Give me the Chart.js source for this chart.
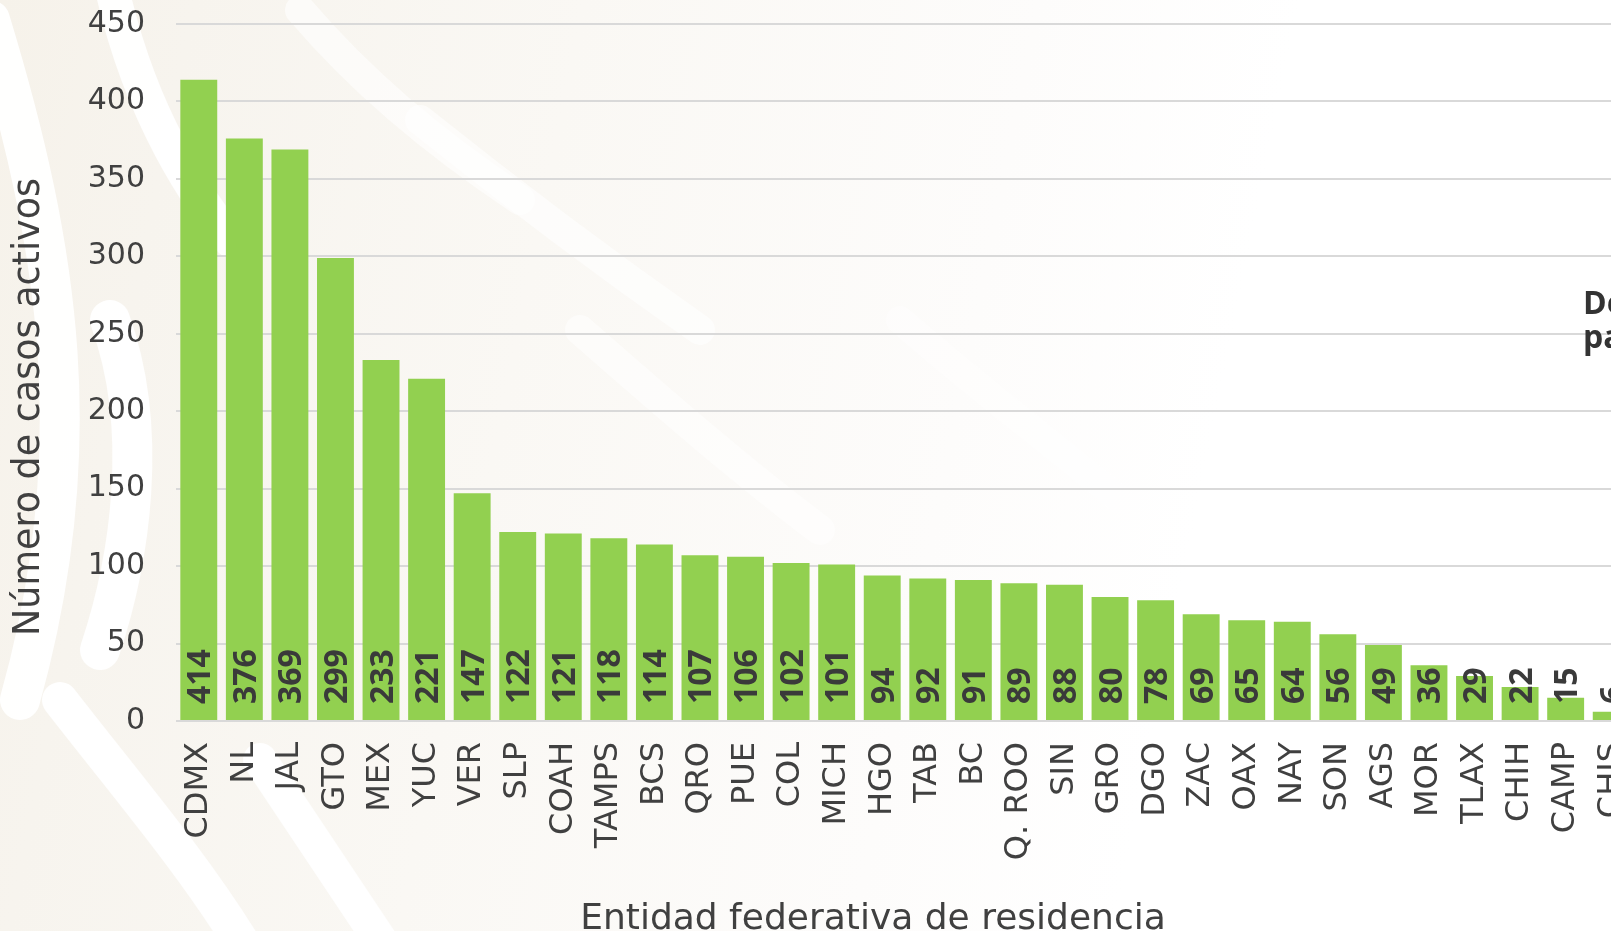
<!DOCTYPE html>
<html lang="es">
<head>
<meta charset="utf-8">
<title>Casos activos por entidad</title>
<script src="https://cdn.jsdelivr.net/npm/chart.js@4.4.0/dist/chart.umd.min.js"></script>
<style>
  html, body { margin: 0; padding: 0; background: #ffffff; overflow: hidden; }
  #wrap { position: absolute; left: 0; top: 0; width: 1700px; height: 931px; }
</style>
</head>
<body>
<div id="wrap"><canvas id="casosChart"></canvas></div>
<script>
const entidades = ["CDMX", "NL", "JAL", "GTO", "MEX", "YUC", "VER", "SLP", "COAH", "TAMPS",
  "BCS", "QRO", "PUE", "COL", "MICH", "HGO", "TAB", "BC", "Q. ROO", "SIN",
  "GRO", "DGO", "ZAC", "OAX", "NAY", "SON", "AGS", "MOR", "TLAX", "CHIH", "CAMP", "CHIS"];
const casosActivos = [414, 376, 369, 299, 233, 221, 147, 122, 121, 118,
  114, 107, 106, 102, 101, 94, 92, 91, 89, 88,
  80, 78, 69, 65, 64, 56, 49, 36, 29, 22, 15, 6];
const yTicks = [0, 50, 100, 150, 200, 250, 300, 350, 400, 450];

const textColor = "#404040";
const fuente = "'DejaVu Sans'";

// fondo beige con trazos blancos (decorativo)
const fondo = {
  id: "fondo",
  beforeDraw(chart) {
    const ctx = chart.ctx;
    const w = chart.width, h = chart.height;
    ctx.save();
    const g = ctx.createLinearGradient(0, 0, 1250, 250);
    g.addColorStop(0, "#f6f2ea");
    g.addColorStop(0.15, "#f7f4ee");
    g.addColorStop(0.45, "#faf8f4");
    g.addColorStop(0.8, "#fdfcfb");
    g.addColorStop(1, "#ffffff");
    ctx.fillStyle = g;
    ctx.fillRect(0, 0, w, h);
    ctx.lineCap = "round";
    const trazos = [
      [0.95, 40, [[-10, 20], [60, 250], [90, 450], [20, 700]]],
      [0.95, 34, [[110, -20], [140, 120], [200, 200], [230, 240]]],
      [0.95, 40, [[110, 320], [150, 430], [130, 560], [100, 650]]],
      [0.95, 36, [[60, 700], [130, 790], [190, 860], [240, 940]]],
      [0.95, 34, [[260, 760], [300, 820], [340, 880], [380, 940]]],
      [0.6, 30, [[300, 10], [360, 80], [430, 140], [520, 200]]],
      [0.6, 30, [[420, 120], [520, 200], [600, 260], [700, 330]]],
      [0.5, 30, [[580, 330], [660, 400], [740, 470], [820, 530]]],
      [0.4, 28, [[900, 320], [980, 390], [1060, 450], [1120, 500]]]
    ];
    trazos.forEach(([a, lw, p]) => {
      ctx.strokeStyle = "rgba(255,255,255," + a + ")";
      ctx.lineWidth = lw;
      ctx.beginPath();
      ctx.moveTo(p[0][0], p[0][1]);
      ctx.bezierCurveTo(p[1][0], p[1][1], p[2][0], p[2][1], p[3][0], p[3][1]);
      ctx.stroke();
    });
    ctx.restore();
  }
};

// etiquetas de valor dentro de la base de cada barra
const etiquetas = {
  id: "etiquetas",
  afterDatasetsDraw(chart) {
    const ctx = chart.ctx;
    const meta = chart.getDatasetMeta(0);
    ctx.save();
    ctx.fillStyle = "#3a3a3a";
    ctx.font = "bold 32px 'Open Sans'";
    ctx.textAlign = "left";
    ctx.textBaseline = "alphabetic";
    meta.data.forEach((bar, i) => {
      ctx.save();
      ctx.translate(bar.x, bar.base - 16);
      ctx.rotate(-Math.PI / 2);
      ctx.fillText(String(casosActivos[i]), 0, 11.5);
      ctx.restore();
    });
    ctx.restore();
  }
};

// títulos de los ejes y texto lateral
const titulos = {
  id: "titulos",
  afterDraw(chart) {
    const ctx = chart.ctx;
    const area = chart.chartArea;
    ctx.save();
    ctx.fillStyle = textColor;
    ctx.font = "36.5px " + fuente;
    ctx.textAlign = "center";
    ctx.textBaseline = "middle";
    ctx.save();
    ctx.translate(30, area.top + 383);
    ctx.rotate(-Math.PI / 2);
    ctx.fillText("Número de casos activos", 0, 0);
    ctx.restore();

    ctx.font = "36px " + fuente;
    ctx.textBaseline = "alphabetic";
    ctx.fillText("Entidad federativa de residencia", 873, area.bottom + 208);

    ctx.font = "bold 32px 'Open Sans'";
    ctx.fillStyle = "#333333";
    ctx.textAlign = "left";
    ctx.fillText("Del total", 1583, 314);
    ctx.fillText("país", 1583, 348);
    ctx.restore();
  }
};

const ctx = document.getElementById("casosChart").getContext("2d");
const casosChart = new Chart(ctx, {
  type: "bar",
  data: {
    labels: entidades,
    datasets: [
      {
        label: "Casos activos",
        data: casosActivos,
        backgroundColor: "#92d050",
        borderWidth: 0,
        categoryPercentage: 1,
        barPercentage: 0.81,
      },
    ],
  },
  options: {
    responsive: true,
    maintainAspectRatio: false,
    animation: false,
    layout: {
      padding: { left: 0, right: 66, top: 0, bottom: 0 },
    },
    plugins: {
      legend: { display: false },
      tooltip: { enabled: false },
    },
    scales: {
      y: {
        min: 0,
        max: 450,
        afterFit(scale) {
          scale.width = 176;
          scale.paddingTop = 24;
        },
        afterBuildTicks(scale) { scale.ticks = yTicks.map(v => ({ value: v })); },
        border: { display: false },
        grid: {
          color: "#d9d9d9",
          lineWidth: 2,
          drawTicks: false,
        },
        ticks: {
          color: textColor,
          padding: 31,
          font: { family: fuente, size: 30 },
        },
      },
      x: {
        afterFit(scale) { scale.height = 210; },
        border: { display: false },
        grid: { display: false, drawTicks: false },
        ticks: {
          color: textColor,
          padding: 21,
          autoSkip: false,
          minRotation: 90,
          maxRotation: 90,
          font: { family: fuente, size: 32 },
        },
      },
    },
  },
  plugins: [fondo, etiquetas, titulos],
});
</script>
</body>
</html>
